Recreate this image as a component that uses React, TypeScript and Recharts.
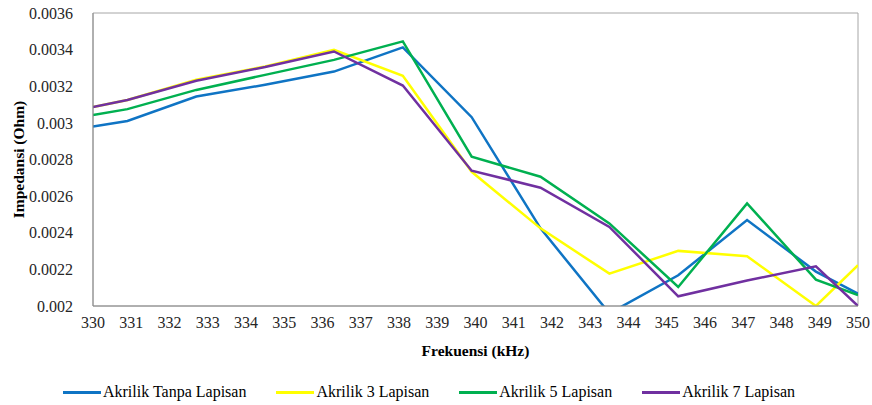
import React from "react";
import { LineChart, Line, XAxis, YAxis, Legend, ReferenceArea } from "recharts";

// frequency points (kHz)
const frequencies = [330, 330.9, 332.7, 334.5, 336.3, 338.1, 339.9, 341.7, 343.5, 345.3, 347.1, 348.9, 350];

// impedance (Ohm) per sample
const tanpaLapisan = [0.00298, 0.00301, 0.003144, 0.003208, 0.00328, 0.003412, 0.003031, 0.002424, 0.00196, 0.002168, 0.002469, 0.002188, 0.002068];
const tigaLapisan = [0.003086, 0.003125, 0.003235, 0.003308, 0.003399, 0.003257, 0.002733, 0.002424, 0.002177, 0.002301, 0.002272, 0.002, 0.002223];
const limaLapisan = [0.003043, 0.003075, 0.00318, 0.003262, 0.003344, 0.003445, 0.002815, 0.002706, 0.002451, 0.002104, 0.00256, 0.002144, 0.002059];
const tujuhLapisan = [0.003086, 0.003125, 0.00323, 0.003305, 0.00339, 0.003204, 0.002739, 0.002646, 0.002432, 0.002053, 0.002139, 0.002217, 0.002];

const xTicks = [330, 331, 332, 333, 334, 335, 336, 337, 338, 339, 340, 341, 342, 343, 344, 345, 346, 347, 348, 349, 350];
const yTicks = [0.002, 0.0022, 0.0024, 0.0026, 0.0028, 0.003, 0.0032, 0.0034, 0.0036];

const series = [
  { key: "tanpa", name: "Akrilik Tanpa Lapisan", color: "#0F74C4", values: tanpaLapisan },
  { key: "tiga", name: "Akrilik 3 Lapisan", color: "#FFFF00", values: tigaLapisan },
  { key: "lima", name: "Akrilik 5 Lapisan", color: "#00B050", values: limaLapisan },
  { key: "tujuh", name: "Akrilik 7 Lapisan", color: "#7030A0", values: tujuhLapisan },
];

const data = frequencies.map((f, i) => {
  const row: Record<string, number> = { freq: f };
  series.forEach((s) => (row[s.key] = s.values[i]));
  return row;
});

const FONT = "Liberation Serif, serif";

const YTitle = (props: any) => {
  const { viewBox } = props;
  const cx = 18;
  const cy = viewBox.y + viewBox.height / 2;
  return (
    <text x={cx} y={cy} transform={`rotate(-90 ${cx} ${cy})`} textAnchor="middle" dominantBaseline="central"
      style={{ fontFamily: FONT, fontWeight: "bold", fontSize: 15.5 }} fill="#000">
      Impedansi (Ohm)
    </text>
  );
};

const XTitle = (props: any) => {
  const { viewBox } = props;
  return (
    <text x={viewBox.x + viewBox.width / 2} y={viewBox.y + 50} textAnchor="middle"
      style={{ fontFamily: FONT, fontWeight: "bold", fontSize: 15.5 }} fill="#000">
      Frekuensi (kHz)
    </text>
  );
};

const LegendContent = () => (
  <div style={{ display: "flex", justifyContent: "center", gap: 30, height: 20, alignItems: "center", fontFamily: FONT, fontSize: 16, color: "#000" }}>
    {series.map((s) => (
      <div key={s.key} style={{ display: "flex", alignItems: "center" }}>
        <span style={{ display: "inline-block", width: 38, height: 3, background: s.color, marginRight: 2 }} />
        <span>{s.name}</span>
      </div>
    ))}
  </div>
);

export default function App() {
  return (
    <div style={{ position: "absolute", left: 0, top: 0, background: "#fff" }}>
      <LineChart width={872} height={405} data={data} margin={{ top: 13, right: 14, left: 0, bottom: 3 }}>
        <XAxis
          dataKey="freq"
          type="number"
          domain={[330, 350]}
          ticks={xTicks}
          interval={0}
          allowDataOverflow
          height={76}
          tickLine={false}
          tickMargin={5}
          axisLine={{ stroke: "#8c8c8c" }}
          tick={{ fill: "#262626", fontSize: 16, fontFamily: FONT }}
          label={{ content: XTitle }}
        />
        <YAxis
          type="number"
          domain={[0.002, 0.0036]}
          ticks={yTicks}
          allowDataOverflow
          width={93}
          tickLine={false}
          tickMargin={14}
          axisLine={{ stroke: "#8c8c8c" }}
          tick={{ fill: "#262626", fontSize: 16, fontFamily: FONT }}
          tickFormatter={(v: number) => String(Number(v.toFixed(4)))}
          label={{ content: YTitle }}
        />
        <ReferenceArea x1={330} x2={350} y1={0.002} y2={0.0036} fill="none" stroke="#a6a6a6" strokeWidth={1} />
        <Legend verticalAlign="bottom" content={LegendContent} wrapperStyle={{ height: 20 }} />
        {series.map((s) => (
          <Line
            key={s.key}
            dataKey={s.key}
            name={s.name}
            stroke={s.color}
            strokeWidth={2.5}
            dot={false}
            type="linear"
            isAnimationActive={false}
          />
        ))}
      </LineChart>
    </div>
  );
}
